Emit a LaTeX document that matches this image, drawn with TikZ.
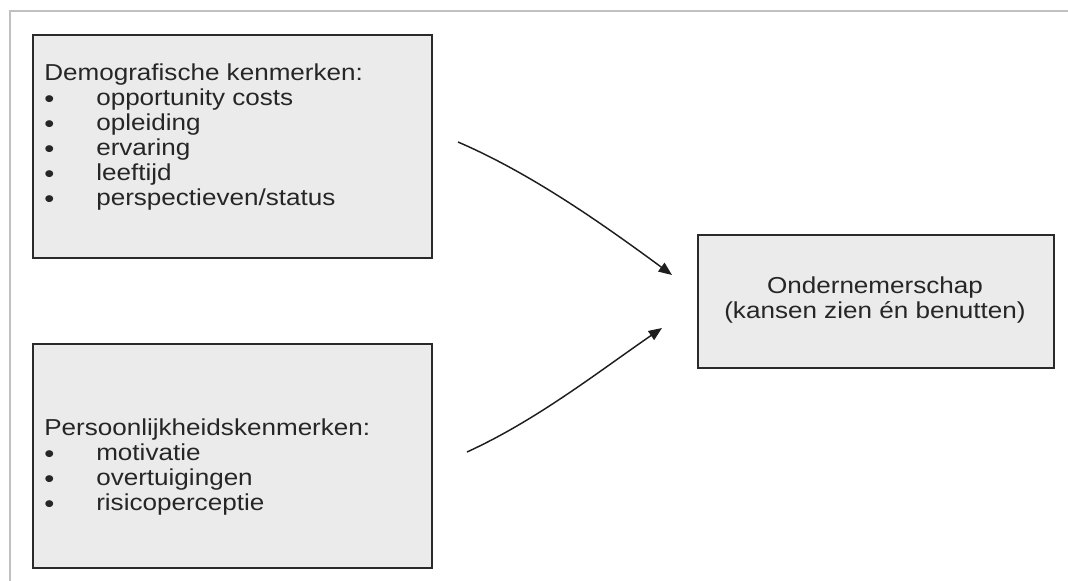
\documentclass[tikz,border=0pt]{standalone}
\usepackage{fontspec}
\setmainfont{Liberation Sans}[FakeStretch=1.13]
\usetikzlibrary{arrows.meta}
\definecolor{boxfill}{HTML}{EBEBEB}
\definecolor{boxline}{HTML}{2A2A2A}
\definecolor{framegray}{HTML}{C0C0C0}
\definecolor{arrowcol}{HTML}{1E1E1E}
\definecolor{textcol}{HTML}{262626}
\newcommand{\itm}[1]{\makebox[39pt][l]{\smash{\raisebox{-1.2pt}{\fontsize{19pt}{18pt}\selectfont\textbullet}}}#1}
\begin{document}
\begin{tikzpicture}[x=0.75pt,y=-0.75pt,
  box/.style={draw=boxline, fill=boxfill, line width=1.5pt, inner sep=0pt, anchor=north west},
  listtext/.style={anchor=north west, inner sep=0pt, align=left, text=textcol,
    font=\fontsize{17.3pt}{18.7pt}\selectfont},
  centertext/.style={inner sep=0pt, align=center, text=textcol,
    font=\fontsize{17.3pt}{19pt}\selectfont},
  conn/.style={draw=arrowcol, line width=1.1pt, -{Triangle[length=10pt,width=8pt]}}]
\useasboundingbox (0,0) rectangle (1068,581);
% frame
\coordinate (fa) at (10,581);
\coordinate (fb) at (10,11);
\coordinate (fc) at (1068,11);
\draw[framegray, line width=1.5pt] (fa) -- (fb) -- (fc);
% boxes
\node[box, minimum width=299.25pt, minimum height=167.25pt] (demo) at (32,34) {};
\node[box, minimum width=299.25pt, minimum height=168pt] (pers) at (32,343) {};
\node[box, minimum width=267pt, minimum height=99.75pt] (ond) at (697,234) {};
% texts
\node[listtext] (demotext) at (44,64) {Demografische kenmerken:\\
\itm{opportunity costs}\\
\itm{opleiding}\\
\itm{ervaring}\\
\itm{leeftijd}\\
\itm{perspectieven/status}};
\node[listtext] (perstext) at (44,419) {Persoonlijkheidskenmerken:\\
\itm{motivatie}\\
\itm{overtuigingen}\\
\itm{risicoperceptie}};
\node[centertext] (ondtext) at (875,300) {Ondernemerschap\\(kansen zien én benutten)};
% arrows
\coordinate (a1s) at (458,142);
\coordinate (a1e) at (672,275);
\coordinate (a2s) at (467,452);
\coordinate (a2e) at (662,328);
\draw[conn] (a1s) .. controls (530,173) and (600,222) .. (a1e);
\draw[conn] (a2s) .. controls (537,420) and (598,372) .. (a2e);
\end{tikzpicture}
\end{document}
